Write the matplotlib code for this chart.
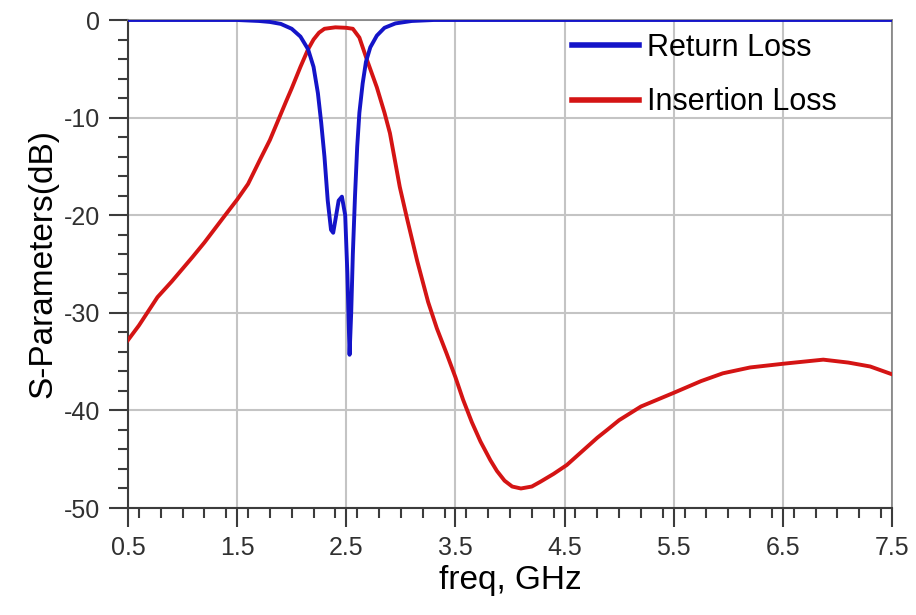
import matplotlib
matplotlib.use("Agg")
import matplotlib.pyplot as plt
from matplotlib.ticker import MultipleLocator

BLUE = "#1414c8"
RED = "#d41414"
GRID = "#c4c4c4"
AXIS = "#3c3c3c"

# Return loss (S11)
rl_freq = [0.5, 1.0, 1.5, 1.7, 1.8, 1.9, 2.0, 2.08, 2.15, 2.2, 2.24, 2.27,
           2.30, 2.33, 2.36, 2.38, 2.40, 2.43, 2.46, 2.49, 2.51, 2.53, 2.545,
           2.56, 2.58, 2.60, 2.62, 2.65, 2.68, 2.72, 2.78, 2.85, 2.95, 3.1,
           3.3, 4.0, 7.5]
rl_db = [0.0, 0.0, 0.0, -0.1, -0.2, -0.4, -0.9, -1.7, -3.0, -4.8, -7.5, -10.5,
         -14.0, -18.5, -21.5, -21.8, -20.5, -18.5, -18.1, -20.0, -26.0, -34.3, -30.0,
         -24.0, -18.0, -13.0, -9.5, -6.5, -4.3, -2.8, -1.6, -0.8, -0.35, -0.1,
         0.0, 0.0, 0.0]

# Insertion loss (S21)
il_freq = [0.5, 0.6, 0.77, 0.9, 1.09, 1.2, 1.39, 1.5, 1.6, 1.71, 1.8, 1.89,
           1.95, 2.0, 2.04, 2.08, 2.15, 2.2, 2.25, 2.3, 2.4, 2.5, 2.56, 2.62,
           2.69, 2.78, 2.85, 2.90, 2.99, 3.06, 3.15, 3.25, 3.33, 3.42, 3.5,
           3.57, 3.65, 3.73, 3.82, 3.88, 3.95, 4.02, 4.1, 4.2, 4.28, 4.4, 4.52, 4.65,
           4.8, 4.89, 5.0, 5.2, 5.5, 5.75, 5.95, 6.2, 6.52, 6.87, 7.1, 7.3, 7.5]
il_db = [-32.8, -31.3, -28.4, -26.8, -24.3, -22.8, -20.0, -18.4, -16.8, -14.3, -12.3, -9.9,
         -8.3, -7.0, -5.9, -4.8, -3.0, -2.0, -1.3, -0.9, -0.75, -0.8, -0.9, -1.8,
         -4.1, -6.9, -9.5, -11.6, -17.1, -20.5, -24.7, -28.9, -31.6, -34.2, -36.6,
         -38.9, -41.2, -43.2, -45.1, -46.2, -47.2, -47.8, -48.0, -47.8, -47.3, -46.5, -45.6, -44.3,
         -42.8, -42.0, -41.0, -39.6, -38.2, -37.0, -36.2, -35.6, -35.2, -34.8, -35.1, -35.5, -36.3]

plt.rcParams["font.family"] = ["Liberation Sans", "DejaVu Sans"]
plt.rcParams["axes.unicode_minus"] = False

fig = plt.figure(figsize=(9.16, 6.15), dpi=100, facecolor="white")
ax = fig.add_axes([128 / 916, 1 - 508 / 615, 764 / 916, 488 / 615])

ax.plot(rl_freq, rl_db, color=BLUE, lw=2.8, label="Return Loss", zorder=4)
ax.plot(il_freq, il_db, color=RED, lw=2.8, label="Insertion Loss", zorder=3)

ax.set_xlim(0.5, 7.5)
ax.set_ylim(-50, 0)
ax.xaxis.set_minor_locator(MultipleLocator(0.2))
ax.yaxis.set_major_locator(MultipleLocator(10))
ax.yaxis.set_minor_locator(MultipleLocator(2))
ax.set_xticks([0.5 + i for i in range(8)])

ax.grid(which="major", color=GRID, lw=1.5, zorder=0)
ax.tick_params(which="major", direction="out", length=14, width=1.5,
               color=AXIS, labelsize=18, pad=6, labelcolor="#303030")
ax.tick_params(which="minor", direction="out", length=7, width=1.5, color=AXIS)
ax.tick_params(top=False, right=False, which="both")

for side in ("left", "bottom"):
    ax.spines[side].set_color(AXIS)
    ax.spines[side].set_linewidth(1.5)
for side in ("top", "right"):
    ax.spines[side].set_color("#808080")
    ax.spines[side].set_linewidth(1.2)

ax.set_xlabel("freq, GHz", fontsize=24, labelpad=4)
ax.set_ylabel("S-Parameters(dB)", fontsize=24, labelpad=4)

leg = ax.legend(loc="upper left", bbox_to_anchor=(0.581, 0.973), frameon=False,
                fontsize=22, handlelength=2.2, handletextpad=0.25,
                labelspacing=0.79, borderpad=0, borderaxespad=0)
for line in leg.get_lines():
    line.set_linewidth(4)

fig.savefig("out.png", dpi=100, facecolor="white")
